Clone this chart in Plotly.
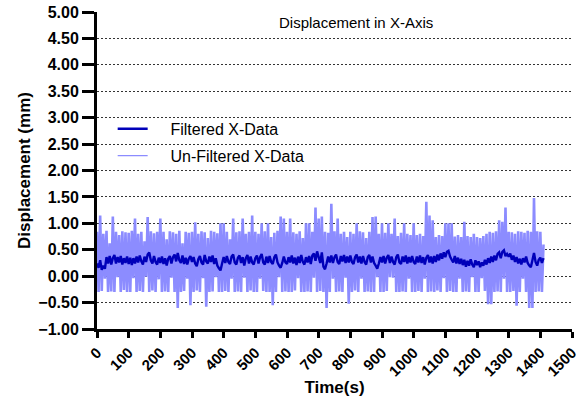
import plotly.graph_objects as go

time_step_s = 5

# Un-filtered X displacement (mm), one value every 5 s
raw_x = [
    0.84, -0.30, 1.15, -0.28, 0.80, -0.05, 0.86, -0.30, 0.62, -0.29, 1.13, -0.30, 0.84, -0.02, 0.78, -0.30, 0.85, -0.26, 0.83, -0.30,
    0.82, -0.30, 0.86, -0.04, 1.09, -0.30, 0.80, -0.28, 0.84, -0.30, 0.66, -0.01, 1.12, -0.30, 0.85, -0.27, 0.81, -0.30, 0.84, -0.06,
    1.09, -0.30, 0.84, -0.29, 0.70, -0.30, 0.85, -0.03, 0.83, -0.30, 0.80, -0.60, 0.86, -0.30, 0.62, -0.28, 0.84, -0.05, 0.82, -0.55,
    0.84, -0.30, 1.02, -0.27, 0.80, -0.30, 0.85, -0.04, 0.83, -0.58, 0.72, -0.30, 0.86, -0.29, 0.84, -0.02, 0.81, -0.30, 1.00, -0.30,
    1.00, -0.28, 0.84, -0.30, 0.70, -0.05, 1.09, -0.30, 0.83, -0.29, 0.85, -0.30, 1.09, -0.03, 0.80, -0.30, 0.84, -0.27, 1.15, -0.30,
    0.84, -0.30, 0.80, -0.05, 1.00, -0.28, 0.85, -0.30, 1.00, -0.30, 0.74, -0.55, 0.82, -0.30, 0.86, -0.02, 1.13, -0.30, 1.09, -0.29,
    0.84, -0.30, 1.09, -0.30, 0.83, -0.27, 0.80, -0.04, 0.85, -0.30, 0.72, -0.30, 1.00, -0.29, 1.00, -0.30, 0.84, -0.03, 1.30, -0.30,
    1.09, -0.28, 1.13, -0.30, 0.84, -0.60, 0.82, -0.30, 1.37, -0.05, 0.85, -0.30, 1.09, -0.29, 0.80, -0.30, 0.84, -0.03, 0.74, -0.52,
    0.84, -0.30, 0.80, -0.27, 1.00, -0.30, 0.85, -0.05, 0.83, -0.30, 0.72, -0.29, 0.84, -0.30, 1.12, -0.30, 1.13, -0.02, 0.80, -0.30,
    1.00, -0.30, 0.82, -0.28, 1.00, -0.02, 0.80, -0.03, 1.09, -0.30, 0.76, -0.30, 0.82, -0.29, 1.00, -0.30, 0.80, -0.05, 0.78, -0.30,
    1.00, -0.30, 0.78, -0.28, 0.80, -0.30, 0.76, -0.05, 1.41, -0.30, 1.15, -0.29, 1.06, -0.30, 0.74, -0.27, 0.78, -0.30, 0.76, -0.04,
    1.00, -0.30, 1.00, -0.28, 1.00, -0.30, 0.75, -0.30, 0.78, -0.05, 0.74, -0.30, 1.03, -0.29, 0.76, -0.30, 0.74, -0.02, 0.80, -0.30,
    0.74, -0.30, 0.72, -0.04, 0.76, -0.28, 0.80, -0.53, 0.84, -0.53, 0.82, -0.30, 0.85, -0.29, 1.06, -0.30, 1.03, -0.05, 1.30, -0.30,
    0.84, -0.30, 0.83, -0.28, 0.80, -0.56, 0.85, -0.30, 0.84, -0.05, 0.82, -0.30, 0.86, -0.60, 0.84, -0.60, 1.48, -0.30, 0.85, -0.29,
    0.84, -0.30, 0.60,
]

# Filtered X displacement (mm), same sampling
filtered_x = [
    0.24, 0.16, 0.30, 0.12, 0.20, 0.14, 0.36, 0.24, 0.38, 0.22, 0.34, 0.40, 0.24, 0.36, 0.26, 0.38, 0.22, 0.34, 0.25, 0.37,
    0.23, 0.35, 0.21, 0.34, 0.24, 0.37, 0.26, 0.39, 0.28, 0.22, 0.37, 0.27, 0.41, 0.45, 0.30, 0.24, 0.38, 0.27, 0.22, 0.35,
    0.25, 0.37, 0.23, 0.34, 0.20, 0.33, 0.38, 0.24, 0.36, 0.41, 0.28, 0.44, 0.30, 0.25, 0.39, 0.23, 0.35, 0.22, 0.33, 0.38,
    0.27, 0.36, 0.24, 0.19, 0.32, 0.38, 0.26, 0.22, 0.40, 0.28, 0.24, 0.37, 0.27, 0.39, 0.23, 0.34, 0.20, 0.15, 0.11, 0.24,
    0.36, 0.25, 0.38, 0.27, 0.23, 0.37, 0.41, 0.26, 0.22, 0.35, 0.39, 0.25, 0.36, 0.20, 0.34, 0.40, 0.24, 0.37, 0.26, 0.22,
    0.34, 0.39, 0.24, 0.36, 0.42, 0.26, 0.22, 0.37, 0.25, 0.38, 0.27, 0.23, 0.36, 0.41, 0.26, 0.20, 0.16, 0.25, 0.37, 0.26,
    0.23, 0.36, 0.26, 0.39, 0.24, 0.35, 0.21, 0.37, 0.25, 0.40, 0.27, 0.22, 0.36, 0.26, 0.38, 0.23, 0.39, 0.43, 0.29, 0.47,
    0.36, 0.25, 0.45, 0.18, 0.13, 0.24, 0.37, 0.26, 0.39, 0.25, 0.36, 0.41, 0.27, 0.23, 0.38, 0.28, 0.40, 0.25, 0.37, 0.26,
    0.39, 0.27, 0.23, 0.36, 0.41, 0.26, 0.37, 0.24, 0.38, 0.27, 0.22, 0.36, 0.40, 0.26, 0.37, 0.25, 0.20, 0.14, 0.24, 0.36,
    0.26, 0.38, 0.24, 0.35, 0.40, 0.25, 0.37, 0.27, 0.22, 0.36, 0.41, 0.26, 0.23, 0.37, 0.27, 0.39, 0.24, 0.36, 0.26, 0.38,
    0.27, 0.23, 0.37, 0.26, 0.39, 0.25, 0.36, 0.22, 0.35, 0.40, 0.26, 0.37, 0.24, 0.38, 0.27, 0.41, 0.30, 0.43, 0.33, 0.45,
    0.36, 0.46, 0.48, 0.37, 0.31, 0.26, 0.38, 0.24, 0.35, 0.23, 0.33, 0.21, 0.31, 0.18, 0.29, 0.20, 0.32, 0.22, 0.17, 0.30,
    0.21, 0.28, 0.17, 0.26, 0.20, 0.31, 0.22, 0.34, 0.25, 0.37, 0.27, 0.39, 0.30, 0.42, 0.45, 0.34, 0.46, 0.49, 0.38, 0.42,
    0.37, 0.43, 0.31, 0.39, 0.27, 0.36, 0.24, 0.33, 0.22, 0.34, 0.26, 0.37, 0.25, 0.20, 0.17, 0.30, 0.44, 0.27, 0.20, 0.31,
    0.35, 0.25, 0.34,
]

time_s = [i * time_step_s for i in range(len(raw_x))]

x_tick_vals = [0, 100, 200, 300, 400, 500, 600, 700, 800, 900, 1000, 1100, 1200, 1300, 1400, 1500]
y_tick_vals = [-1.0, -0.5, 0.0, 0.5, 1.0, 1.5, 2.0, 2.5, 3.0, 3.5, 4.0, 4.5, 5.0]
y_grid_vals = [-0.5, 0.0, 0.5, 1.0, 1.5, 2.0, 2.5, 3.0, 3.5, 4.0, 4.5]

FONT = "Arial, Liberation Sans, Helvetica, sans-serif"
NB = "\u00a0\u00a0\u00a0\u00a0"
RAW_COLOR = "rgb(140,140,255)"

fig = go.Figure()
fig.add_trace(go.Scatter(
    x=time_s, y=raw_x, mode="lines", name=NB + "Un-Filtered X-Data",
    line=dict(color=RAW_COLOR, width=2.6, simplify=False),
    legendgroup="b", showlegend=False,
))
# legend entry for the un-filtered series, with the thin line of the reference key
fig.add_trace(go.Scatter(
    x=[None], y=[None], mode="lines", name=NB + "Un-Filtered X-Data",
    line=dict(color=RAW_COLOR, width=1.2), legendrank=2, legendgroup="b",
    hoverinfo="skip",
))
fig.add_trace(go.Scatter(
    x=time_s, y=filtered_x, mode="lines", name=NB + "Filtered X-Data",
    line=dict(color="rgb(0,0,185)", width=2.4, simplify=False), legendrank=1,
    legendgroup="a",
))

fig.update_layout(
    width=588, height=403,
    margin=dict(l=97, r=16, t=12, b=74, autoexpand=False),
    paper_bgcolor="white", plot_bgcolor="white",
    font=dict(family=FONT, color="black", size=14),
    showlegend=True,
    legend=dict(x=0.033, y=0.685, xanchor="left", yanchor="top",
                bgcolor="rgba(0,0,0,0)", font=dict(size=16, family=FONT),
                tracegroupgap=3, itemwidth=30),
    xaxis=dict(
        range=[0, 1500], tickvals=x_tick_vals, tickangle=-45,
        showline=True, linecolor="black", linewidth=3,
        ticks="outside", ticklen=6, tickwidth=3, tickcolor="black",
        tickfont=dict(size=15, weight="bold", family=FONT),
        showgrid=False, zeroline=False, automargin=False,
        title=dict(text="Time(s)", font=dict(size=17, weight="bold", family=FONT), standoff=3),
    ),
    yaxis=dict(
        range=[-1, 5], tickvals=y_tick_vals, tickformat=".2f",
        showline=True, linecolor="black", linewidth=3,
        ticks="outside", ticklen=12, tickwidth=3, tickcolor="black",
        tickfont=dict(size=16, weight="bold", family=FONT),
        ticklabeloverflow="allow",
        showgrid=False, zeroline=False, automargin=False,
        title=dict(text="Displacement (mm)", font=dict(size=17, weight="bold", family=FONT), standoff=4),
    ),
    yaxis2=dict(
        range=[-1, 5], overlaying="y", tickvals=y_grid_vals,
        showticklabels=False, ticks="", showline=False, zeroline=False,
        showgrid=True, gridcolor="#333333", gridwidth=1, griddash="2px,2px",
        layer="below traces", automargin=False,
    ),
    annotations=[dict(
        text="Displacement in X-Axis", xref="paper", yref="paper",
        x=0.545, y=0.968, xanchor="center", yanchor="middle",
        showarrow=False, font=dict(size=15, family=FONT),
    )],
)
# invisible trace to activate the grid axis
fig.add_trace(go.Scatter(x=[None], y=[None], yaxis="y2", showlegend=False, hoverinfo="skip"))

# remove the browser's default 8 px page margin so the figure sits at the window origin
fig.write_html("out.html", config={"displayModeBar": False},
               post_script="document.body.style.margin='0';")
